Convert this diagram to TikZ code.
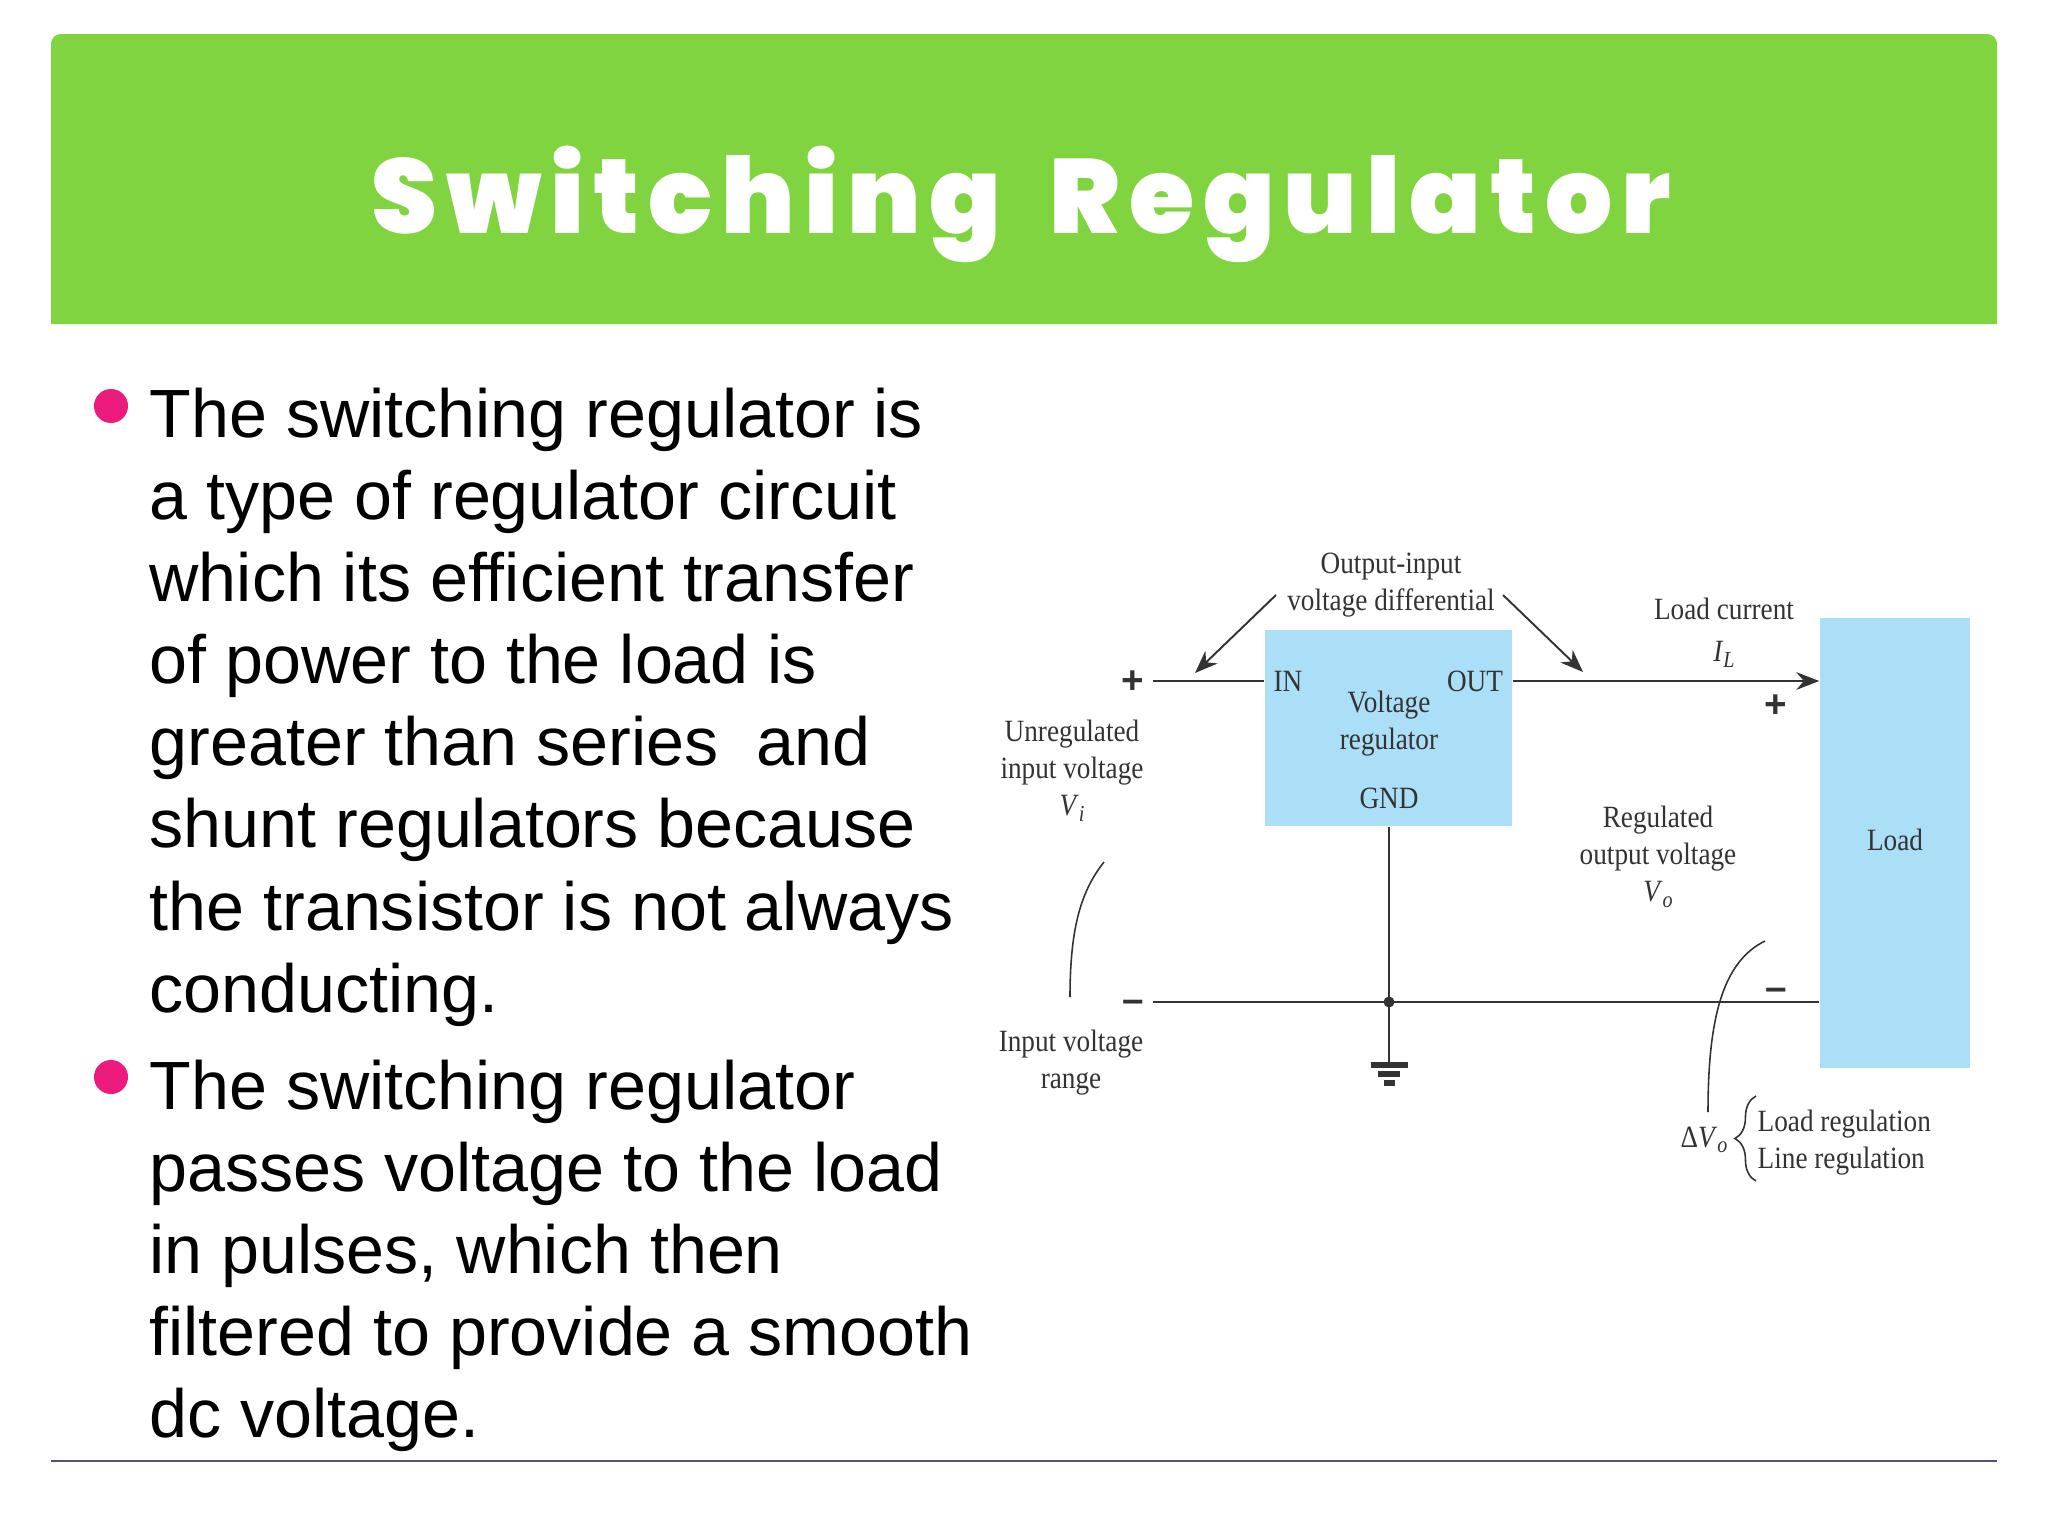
\documentclass[tikz,border=0pt]{standalone}
\usepackage{fontspec}
\usepackage{xcolor}
\usetikzlibrary{arrows.meta,decorations.pathreplacing}
\setmainfont{Liberation Sans}
\newfontfamily\figfont[FakeStretch=0.88]{Liberation Serif}
\newfontfamily\titlefont{Poppins}[UprightFont=* Black,LetterSpace=8.5]
\definecolor{bannergreen}{HTML}{7FD43F}
\definecolor{boxblue}{HTML}{ABDFF8}
\definecolor{bulletpink}{HTML}{EC1A7D}
\definecolor{rulegrey}{HTML}{4A5672}
\definecolor{inkgrey}{HTML}{333333}
\newcommand{\subvar}[2]{\textit{#1}\raisebox{-0.4ex}{\fontsize{6.5}{6.5}\selectfont\textit{#2}}}
\begin{document}
\begin{tikzpicture}[x=0.01cm,y=-0.01cm]
	\useasboundingbox (0,0) rectangle (2048,1536);
	\tikzstyle{every node}+=[inner sep=0pt]
	\tikzstyle{body}=[align=left,anchor=north west,font=\fontsize{19.4}{23.36}\selectfont,text=black]
	\tikzstyle{bullet}=[circle,fill=bulletpink,minimum size=0.34cm]
	\tikzstyle{fig}=[align=center,text=inkgrey,font=\figfont\fontsize{8.8}{10.5}\selectfont]
	\tikzstyle{bluebox}=[fill=boxblue]
	\tikzstyle{sign}=[text=inkgrey,font=\fontsize{11}{11}\selectfont\bfseries]
	\tikzstyle{wire}=[draw=inkgrey,line width=0.7pt]
	\tikzstyle{thin}=[draw=inkgrey,line width=0.45pt]
	\tikzstyle{pointer}=[draw=inkgrey,line width=0.55pt,-{Stealth[length=6.5pt,width=5pt]}]
	\tikzstyle{gndbar}=[draw=inkgrey,line width=1.5pt]
	\fill[bannergreen] (51,324) [rounded corners=2.8pt] -- (51,34) -- (1997,34) [sharp corners] -- (1997,324) -- cycle;
	\node[text=white,font=\titlefont\fontsize{30}{30}\selectfont] (title) at (1021,204) {Switching\hspace{6pt} Regulator};
	\node[bullet] (dota) at (111,406) {};
	\node[bullet] (dotb) at (111,1077) {};
	\node[body] (parta) at (149,387) {The switching regulator is\\a type of regulator circuit\\which its efficient transfer\\of power to the load is\\greater than series\ \ and\\shunt regulators because\\the transistor is not always\\conducting.};
	\node[body] (partb) at (149,1059) {The switching regulator\\passes voltage to the load\\in pulses, which then\\filtered to provide a smooth\\dc voltage.};
	\coordinate (rulea) at (51,1461);
	\coordinate (ruleb) at (1997,1461);
	\draw[rulegrey,line width=0.7pt] (rulea) -- (ruleb);
	\node[bluebox,minimum width=2.47cm,minimum height=1.96cm] (reg) at (1388.5,728) {};
	\node[bluebox,minimum width=1.5cm,minimum height=4.5cm] (load) at (1895,843) {};
	\node[fig] (loadname) at (1895,840) {Load};
	\node[fig] (inlabel) at (1288,681) {IN};
	\node[fig] (outlabel) at (1475,681) {OUT};
	\node[fig] (regname) at (1389,724) {Voltage\\regulator};
	\node[fig] (gndlabel) at (1389,798) {GND};
	\node[fig] (diff) at (1391,585) {Output-input\\voltage differential};
	\node[fig] (unreg) at (1072,771) {Unregulated\\input voltage\\\subvar{V}{i}};
	\node[fig] (range) at (1071,1063) {Input voltage\\range};
	\node[fig] (current) at (1724,633) {Load current\\[1.4pt]\subvar{I}{L}};
	\node[fig] (regout) at (1658,857) {Regulated\\output voltage\\\subvar{V}{o}};
	\node[fig] (delta) at (1704,1140) {Δ\subvar{V}{o}};
	\node[fig,align=left,anchor=west] (kinds) at (1757,1143) {Load regulation\\Line regulation};
	\node[sign] (plusa) at (1133,682) {+};
	\node[sign] (plusb) at (1776,706) {+};
	\node[sign] (minusa) at (1133,1006) {–};
	\node[sign] (minusb) at (1776,994) {–};
	\coordinate (inend) at (1153,681);
	\coordinate (retend) at (1153,1002);
	\node[circle,fill=inkgrey,minimum size=0.11cm] (junction) at (1389,1002) {};
	\coordinate (gndtop) at (1389,1063);
	\draw[wire] (inend) -- (reg.west |- inend);
	\draw[wire,-{Stealth[length=6.5pt,width=5pt]}] (reg.east |- inend) -- (load.west |- inend);
	\draw[wire] (retend) -- (load.west |- retend);
	\draw[wire] (reg.south -| junction) -- (gndtop);
	\draw[gndbar] (1370.5,1065) -- (1407.5,1065);
	\draw[gndbar] (1378,1074) -- (1400,1074);
	\draw[gndbar] (1383.5,1083) -- (1394.5,1083);
	\coordinate (diffl) at (1276,595);
	\coordinate (diffr) at (1503,595);
	\coordinate (diffla) at (1195,673);
	\coordinate (diffra) at (1583,672);
	\draw[pointer] (diffl) -- (diffla);
	\draw[pointer] (diffr) -- (diffra);
	\coordinate (rangetop) at (1104,862);
	\coordinate (rangebot) at (1070,997);
	\draw[thin] (rangetop) .. controls (1082,890) and (1070,925) .. (rangebot);
	\coordinate (dvtop) at (1765,941);
	\coordinate (dvbot) at (1708,1112);
	\draw[thin] (dvtop) .. controls (1722,962) and (1708,1020) .. (dvbot);
	\coordinate (bracetop) at (1756,1096);
	\coordinate (bracebot) at (1756,1181);
	\draw[thin,decorate,decoration={brace,amplitude=6pt}] (bracebot) -- (bracetop);
\end{tikzpicture}
\end{document}
